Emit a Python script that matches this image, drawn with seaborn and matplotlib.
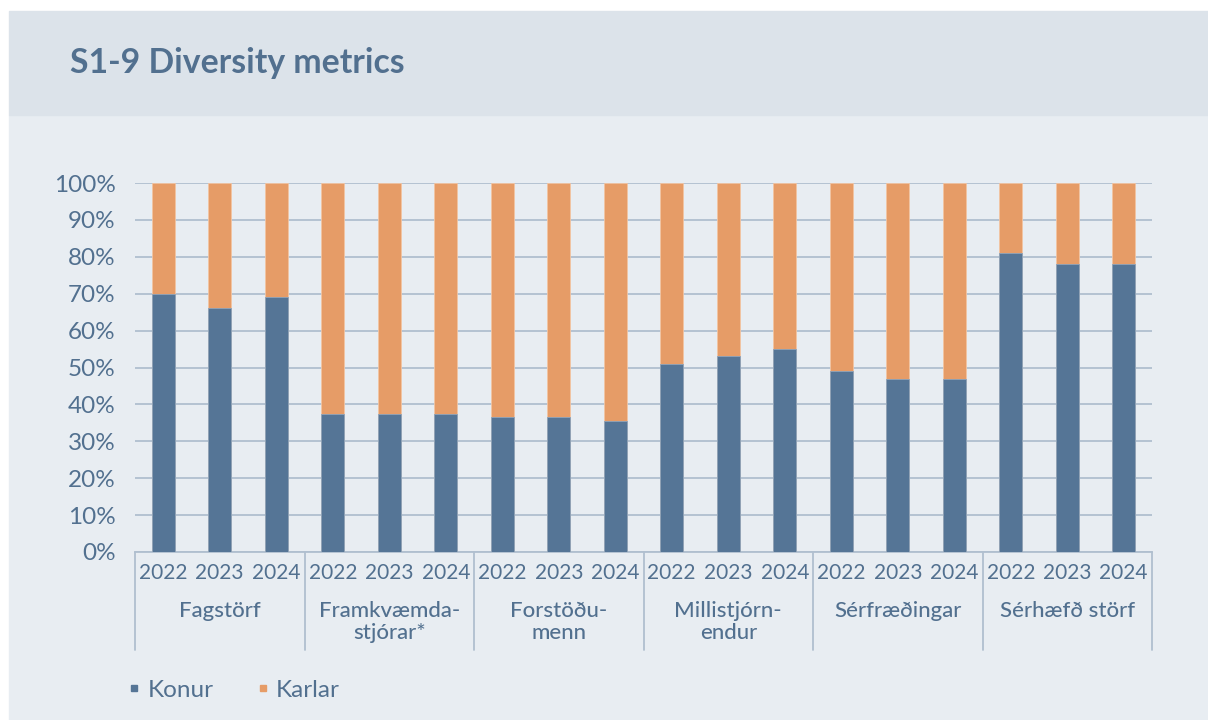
import matplotlib
matplotlib.use("Agg")
import matplotlib.pyplot as plt
import matplotlib.transforms as mtransforms
from matplotlib.lines import Line2D
from matplotlib.patches import Rectangle
import seaborn as sns
import pandas as pd

# Gögn
categories = ["Fagstörf", "Framkvæmda-\nstjórar*", "Forstöðu-\nmenn",
              "Millistjórn-\nendur", "Sérfræðingar", "Sérhæfð störf"]
years = ["2022", "2023", "2024"]
konur = [70, 66, 69,
         37.5, 37.5, 37.5,
         36.5, 36.5, 35.5,
         51, 53, 55,
         49, 47, 47,
         81, 78, 78]
karlar = [100 - v for v in konur]

TEXT = "#52708f"
BLUE = "#557596"
ORANGE = "#e69c67"
GRID = "#b0bfcf"

slots = [f"{c} {y}" for c in categories for y in years]
df = pd.DataFrame({
    "slot": slots,
    "Konur": konur,
    "Karlar": karlar,
})
df["total"] = df["Konur"] + df["Karlar"]

sns.set_style("white")
plt.rcParams["font.family"] = ["Lato", "DejaVu Sans"]

fig = plt.figure(figsize=(12.08, 7.2), dpi=100, facecolor="white")
# bakgrunnur
fig.patches.append(Rectangle((9 / 1208, 0), 1, 1 - 115 / 720, transform=fig.transFigure,
                             color="#e8edf2", zorder=-10))
fig.patches.append(Rectangle((9 / 1208, 1 - 115 / 720), 1, 104 / 720, transform=fig.transFigure,
                             color="#dce3ea", zorder=-10))
fig.text(70 / 1208, 1 - 63 / 720, "S1-9 Diversity metrics", fontsize=24.3, fontweight="bold",
         color=TEXT, va="center", ha="left")

ax = fig.add_axes([135 / 1208, 1 - 552 / 720, (1152 - 135) / 1208, (552 - 183) / 720])
ax.set_facecolor("none")

sns.barplot(data=df, x="slot", y="total", order=slots, color=ORANGE, width=0.41,
            edgecolor="#f2c4a2", linewidth=0.6, saturation=1, ax=ax, zorder=3)
sns.barplot(data=df, x="slot", y="Konur", order=slots, color=BLUE, width=0.41,
            edgecolor="#8ea4bb", linewidth=0.6, saturation=1, ax=ax, zorder=4)

ax.set_ylim(0, 100)
ax.set_xlim(-0.5, len(slots) - 0.5)
ax.set_yticks(range(0, 101, 10))
ax.set_yticklabels([f"{v}%" for v in range(0, 101, 10)])
ax.yaxis.grid(True, color=GRID, linewidth=1.3)
ax.set_axisbelow(True)
for s in ["top", "right", "left"]:
    ax.spines[s].set_visible(False)
ax.spines["bottom"].set_color(GRID)
ax.spines["bottom"].set_linewidth(1.3)
ax.set_xlabel("")
ax.set_ylabel("")
ax.set_xticks(range(len(slots)))
ax.set_xticklabels(years * len(categories))
ax.tick_params(axis="y", length=0, pad=14, labelsize=17.5, labelcolor=TEXT)
ax.tick_params(axis="x", length=0, pad=8, labelsize=15, labelcolor=TEXT)

# flokkar og skilalínur
trans = mtransforms.blended_transform_factory(ax.transData, ax.transAxes)
for i, cat in enumerate(categories):
    ax.text(i * 3 + 1, -0.132, cat, transform=trans, ha="center", va="top",
            fontsize=16, fontweight="medium", color=TEXT, linespacing=1.15)
for b in range(len(categories) + 1):
    ax.plot([b * 3 - 0.5, b * 3 - 0.5], [0, -0.266], transform=trans, color=GRID,
            linewidth=1.3, clip_on=False)

handles = [Line2D([], [], marker="s", linestyle="", color=BLUE, markersize=5),
           Line2D([], [], marker="s", linestyle="", color=ORANGE, markersize=5)]
fig.legend(handles, ["Konur", "Karlar"], loc="center left",
           bbox_to_anchor=(127 / 1208, 1 - 690 / 720), ncol=2, frameon=False,
           fontsize=17.5, labelcolor=TEXT, handletextpad=0.26, columnspacing=1.7,
           handlelength=0.6, borderpad=0, borderaxespad=0)

fig.savefig("out.png", dpi=100, facecolor=fig.get_facecolor())
